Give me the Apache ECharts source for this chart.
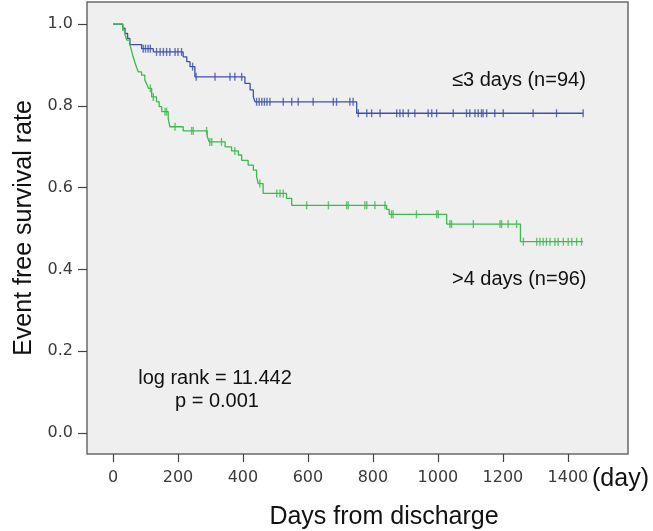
<!DOCTYPE html>
<html>
<head>
<meta charset="utf-8">
<script src="https://cdn.jsdelivr.net/npm/echarts@6/dist/echarts.min.js"></script>
<style>
html,body{margin:0;padding:0;background:#fff;}
#chart{width:653px;height:531px;}
</style>
</head>
<body>
<div id="chart"></div>
<script>
// ≤3 days group (blue): event times (days) and survival after each event
const blueTimes = [0, 30, 37, 45, 52, 88, 124, 216, 227, 237, 252, 406, 422, 432, 437, 750];
const blueSurv  = [1.0, 0.99, 0.977, 0.965, 0.95, 0.94, 0.932, 0.92, 0.908, 0.896, 0.871, 0.855, 0.839, 0.822, 0.81, 0.782];
const blueEnd = 1447;
const blueCensor = [93, 100, 108, 115, 134, 145, 155, 165, 175, 191, 200, 211, 245, 256, 314, 360, 375, 396,
  442, 450, 458, 466, 474, 483, 524, 550, 570, 616, 678, 688, 729, 739, 755, 781, 796, 822, 873, 883, 893,
  909, 929, 970, 981, 996, 1047, 1088, 1098, 1114, 1124, 1134, 1139, 1150, 1175, 1201, 1293, 1365, 1447];

// >4 days group (green)
const greenTimes = [0, 30, 37, 42, 52, 57, 62, 68, 73, 78, 88, 98, 104, 109, 119, 134, 142, 150, 170, 175, 216,
  290, 296, 345, 365, 386, 396, 416, 432, 442, 447, 462, 534, 550, 842, 850, 1027, 1254];
const greenSurv = [1.0, 0.985, 0.975, 0.961, 0.95, 0.935, 0.92, 0.905, 0.893, 0.883, 0.875, 0.863, 0.853, 0.843,
  0.822, 0.81, 0.798, 0.786, 0.769, 0.749, 0.739, 0.725, 0.712, 0.70, 0.69, 0.68, 0.667, 0.655, 0.643, 0.627,
  0.61, 0.586, 0.574, 0.557, 0.547, 0.535, 0.511, 0.468];
const greenEnd = 1447;
const greenCensor = [115, 124, 160, 165, 191, 242, 247, 288, 298, 304, 334, 375, 452, 504, 514, 524, 596, 663,
  719, 724, 775, 781, 806, 837, 857, 862, 934, 996, 1001, 1037, 1042, 1109, 1191, 1196, 1216, 1242, 1263,
  1304, 1314, 1324, 1334, 1345, 1360, 1370, 1386, 1401, 1412, 1427, 1442];

const xTicks = [0, 200, 400, 600, 800, 1000, 1200, 1400];
const yTicks = [0, 0.2, 0.4, 0.6, 0.8, 1.0];

const blueColor = '#3f50ad';
const greenColor = '#3cba4c';

function stepData(times, surv, end) {
  const d = times.map((t, i) => [t, surv[i]]);
  d.push([end, surv[surv.length - 1]]);
  return d;
}
function survAt(times, surv, t) {
  let s = surv[0];
  for (let i = 0; i < times.length; i++) { if (times[i] <= t) s = surv[i]; }
  return s;
}
function censorData(times, surv, cens) {
  return cens.map(t => [t, survAt(times, surv, t)]);
}

const chart = echarts.init(document.getElementById('chart'), null, {renderer: 'canvas'});
const tickFont = {fontFamily: 'DejaVu Sans', fontSize: 16, color: '#3a3a3a'};
chart.setOption({
  animation: false,
  grid: {left: 87, right: 25, top: 2, bottom: 77, show: true, backgroundColor: '#efefef',
         borderColor: '#6a6a6a', borderWidth: 1.5, outerBoundsMode: 'none', containLabel: false},
  xAxis: {
    type: 'value', min: -80, max: 1585,
    axisLine: {show: false, onZero: false},
    splitLine: {show: false},
    axisTick: {show: true, customValues: xTicks, length: 8, lineStyle: {color: '#444', width: 1.2}},
    axisLabel: Object.assign({customValues: xTicks, margin: 16, formatter: v => String(v)}, tickFont)
  },
  yAxis: {
    type: 'value', min: -0.051, max: 1.054,
    axisLine: {show: false, onZero: false},
    splitLine: {show: false},
    axisTick: {show: true, customValues: yTicks, length: 9, lineStyle: {color: '#444', width: 1.2}},
    axisLabel: Object.assign({customValues: yTicks, margin: 14, formatter: v => v.toFixed(1)}, tickFont),
    name: 'Event free survival rate', nameLocation: 'middle', nameRotate: 90, nameGap: 48,
    nameTextStyle: {fontFamily: 'Liberation Sans', fontSize: 25, color: '#111'}
  },
  series: [
    {type: 'line', step: 'end', data: stepData(blueTimes, blueSurv, blueEnd), symbol: 'none',
     lineStyle: {color: blueColor, width: 1.3}, silent: true},
    {type: 'line', step: 'end', data: stepData(greenTimes, greenSurv, greenEnd), symbol: 'none',
     lineStyle: {color: greenColor, width: 1.3}, silent: true},
    {type: 'scatter', data: censorData(blueTimes, blueSurv, blueCensor), symbol: 'rect',
     symbolSize: [1.4, 8], itemStyle: {color: blueColor}, silent: true},
    {type: 'scatter', data: censorData(greenTimes, greenSurv, greenCensor), symbol: 'rect',
     symbolSize: [1.4, 8], itemStyle: {color: greenColor}, silent: true}
  ],
  graphic: [
    {type: 'text', left: 452, top: 70, style: {text: '\u22643 days (n=94)', font: '20px "Liberation Sans"', fill: '#111'}},
    {type: 'text', left: 452, top: 269, style: {text: '>4 days (n=96)', font: '20px "Liberation Sans"', fill: '#111'}},
    {type: 'text', x: 215, y: 378, style: {text: 'log rank = 11.442', font: '20px "Liberation Sans"', fill: '#111', align: 'center', verticalAlign: 'middle'}},
    {type: 'text', x: 217, y: 401, style: {text: 'p = 0.001', font: '20px "Liberation Sans"', fill: '#111', align: 'center', verticalAlign: 'middle'}},
    {type: 'text', x: 384, y: 517, style: {text: 'Days from discharge', font: '25px "Liberation Sans"', fill: '#111', align: 'center', verticalAlign: 'middle'}},
    {type: 'text', x: 592, y: 479, style: {text: '(day)', font: '25px "Liberation Sans"', fill: '#111', align: 'left', verticalAlign: 'middle'}}
  ]
});
</script>
</body>
</html>
